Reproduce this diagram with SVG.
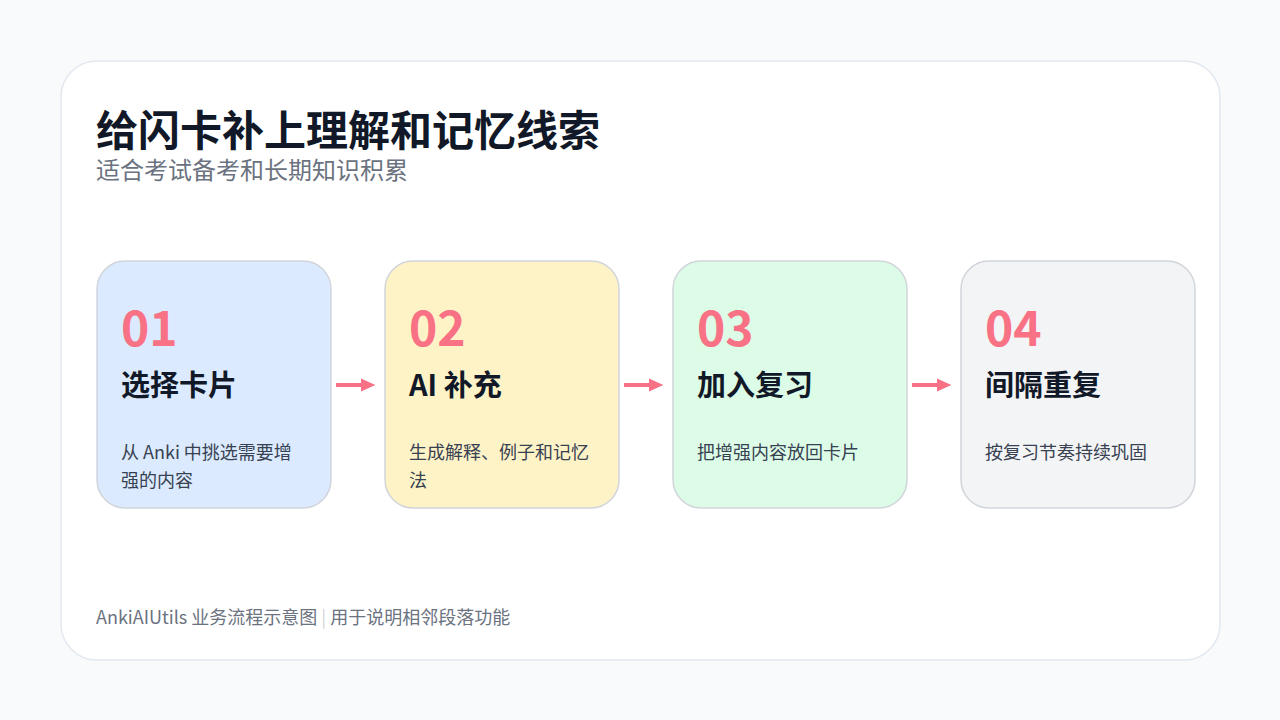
<svg xmlns="http://www.w3.org/2000/svg" width="1280" height="720" viewBox="0 0 1280 720">
<style>
text{font-family:"Noto Sans CJK SC","Noto Sans",sans-serif}
.num{font-size:48px;font-weight:700;fill:#f87185}
.ttl{font-size:29px;font-weight:700;fill:#111827}
.dsc{font-size:18px;fill:#374151}
.card{stroke:#d1d5db;stroke-width:1.5}
.conn{stroke:#f87185;stroke-width:4}
</style>
<defs><marker id="ah" markerWidth="4" markerHeight="4" refX="0" refY="2" orient="auto" markerUnits="strokeWidth"><path d="M0,0.4 L3.6,2 L0,3.6Z" fill="#f87185"/></marker></defs>
<rect width="1280" height="720" fill="#f8fafc"/>
<rect x="61" y="61" width="1159" height="599" rx="36" fill="#fff" stroke="#e2e8f0" stroke-width="1.5"/>
<text x="96" y="146" font-size="42" font-weight="700" fill="#111827">给闪卡补上理解和记忆线索</text>
<text x="96" y="179" font-size="24" fill="#6b7280">适合考试备考和长期知识积累</text>
<g id="n1"><rect class="card" x="97" y="261" width="234" height="247" rx="28" fill="#dbeafe"/><text class="num" x="121" y="346">01</text><text class="ttl" x="121" y="396">选择卡片</text><text class="dsc" x="121" y="459">从 Anki 中挑选需要增</text><text class="dsc" x="121" y="487">强的内容</text></g>
<g id="n2"><rect class="card" x="385" y="261" width="234" height="247" rx="28" fill="#fef3c7"/><text class="num" x="409" y="346">02</text><text class="ttl" x="409" y="396">AI 补充</text><text class="dsc" x="409" y="459">生成解释、例子和记忆</text><text class="dsc" x="409" y="487">法</text></g>
<g id="n3"><rect class="card" x="673" y="261" width="234" height="247" rx="28" fill="#dcfce7"/><text class="num" x="697" y="346">03</text><text class="ttl" x="697" y="396">加入复习</text><text class="dsc" x="697" y="459">把增强内容放回卡片</text></g>
<g id="n4"><rect class="card" x="961" y="261" width="234" height="247" rx="28" fill="#f3f4f6"/><text class="num" x="985" y="346">04</text><text class="ttl" x="985" y="396">间隔重复</text><text class="dsc" x="985" y="459">按复习节奏持续巩固</text></g>
<g id="connectors">
<line class="conn" x1="336" y1="385" x2="361" y2="385" marker-end="url(#ah)"/>
<line class="conn" x1="624" y1="385" x2="649" y2="385" marker-end="url(#ah)"/>
<line class="conn" x1="912" y1="385" x2="937" y2="385" marker-end="url(#ah)"/>
</g>
<text x="96" y="624" font-size="18" fill="#6b7280">AnkiAIUtils 业务流程示意图<tspan fill="#d1d5db"> | </tspan>用于说明相邻段落功能</text>
</svg>
